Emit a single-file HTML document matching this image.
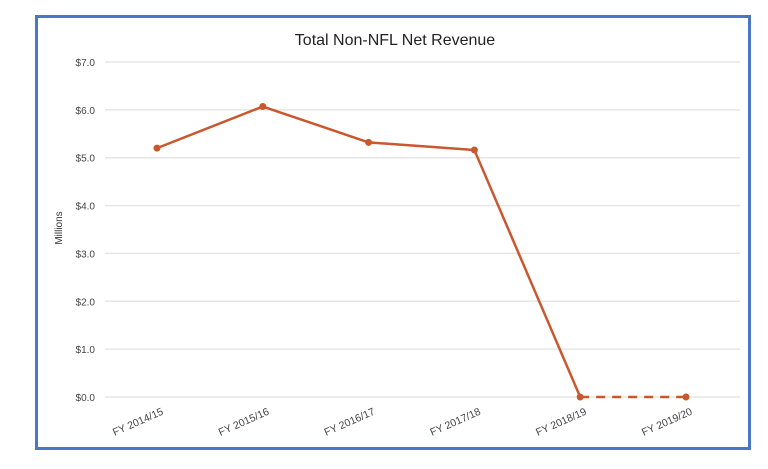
<!DOCTYPE html>
<html><head><meta charset="utf-8"><style>
body{margin:0;background:#fff;width:768px;height:469px;overflow:hidden;font-family:"Liberation Sans",sans-serif}
#frame{position:absolute;left:35px;top:15px;width:710px;height:429px;border:3px solid #4a76c8;background:#fff}
svg{position:absolute;left:0;top:0}
</style></head><body>
<div id="frame"></div>
<svg width="768" height="469">
<text x="395" y="45" text-anchor="middle" font-size="16" fill="#222">Total Non-NFL Net Revenue</text>
<text transform="translate(62,228) rotate(-90)" text-anchor="middle" font-size="10" fill="#333">Millions</text>
<g id="grid"></g><g id="xl"></g><g id="series"></g>
</svg>
<script>
const categories=["FY 2014/15","FY 2015/16","FY 2016/17","FY 2017/18","FY 2018/19","FY 2019/20"];
const values=[5.2,6.07,5.32,5.16,0,0];
const yTicks=[0,1,2,3,4,5,6,7];
const yTickLabels=["$0.0","$1.0","$2.0","$3.0","$4.0","$5.0","$6.0","$7.0"];
const NS="http://www.w3.org/2000/svg";
const y=v=>397-v*(397-62)/7;
const x=i=>157+i*105.8;
function mk(t,a,p){const e=document.createElementNS(NS,t);for(const k in a)e.setAttribute(k,a[k]);p.appendChild(e);return e;}
const g=document.getElementById('grid');
yTicks.forEach((v,i)=>{
 const l=mk('line',{x1:105,x2:740,y1:y(v),y2:y(v),stroke:'#e6e6e6','stroke-width':1.5},g);
 
 
 const t=mk('text',{x:95,y:y(v)+4,'text-anchor':'end','font-size':10,fill:'#444'},g);
 t.textContent=yTickLabels[i];
 
 
});
const xl=document.getElementById('xl');
categories.forEach((c,i)=>{
 const t=mk('text',{transform:`translate(${x(i)+7},${414}) rotate(-24)`,'text-anchor':'end','font-size':10.5,fill:'#444'},xl);
 t.textContent=c;
 
 
});
const s=document.getElementById('series');
const n=values.length;
const solid=values.slice(0,n-1).map((v,i)=>x(i)+','+y(v)).join(' ');
const pl=mk('polyline',{points:solid,fill:'none',stroke:'#c9582e','stroke-width':2.5,'stroke-linejoin':'round'},s);


const dl=mk('line',{x1:x(n-2),y1:y(values[n-2]),x2:x(n-1),y2:y(values[n-1]),stroke:'#c9582e','stroke-width':2.5,'stroke-dasharray':'9,7'},s);


values.forEach((v,i)=>{
 const c=mk('circle',{cx:x(i),cy:y(v),r:3.5,fill:'#c9582e'},s);
 
 
});
</script>
</body></html>
